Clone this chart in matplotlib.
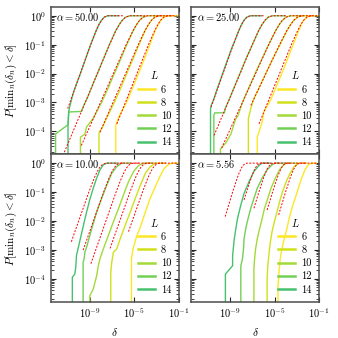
import numpy as np
import matplotlib
matplotlib.use('Agg')
import matplotlib.pyplot as plt
from matplotlib.ticker import LogLocator, NullLocator, NullFormatter

plt.rcParams['font.family'] = 'serif'
plt.rcParams['font.serif'] = ['cmr10', 'DejaVu Serif']
plt.rcParams['mathtext.fontset'] = 'cm'
plt.rcParams['axes.formatter.use_mathtext'] = True

# -------------------------
# Data (log10 values), L order: 6, 8, 10, 12, 14
# -------------------------
L_values = [6, 8, 10, 12, 14]
alphas = ['50.00', '25.00', '10.00', '5.56']
colors = ['#fde725', '#d0e11c', '#a2da37', '#73d056', '#48c16e']

# alpha = 50.00
a50_x = [
    [-6.67, -6.67, -6.40, -5.70, -5.15, -4.62, -4.10, -3.60, -3.12, -2.84, -2.60, -2.32, -1.98, -1.0],
    [-8.18, -8.18, -7.85, -7.50, -6.80, -6.22, -5.68, -5.12, -4.58, -4.03, -3.71, -3.45, -3.13, -2.75, -1.7],
    [-9.85, -9.85, -9.45, -9.30, -8.70, -7.95, -7.35, -6.80, -6.22, -5.68, -5.10, -4.78, -4.52, -4.20, -3.80, -2.8],
    [-12.09, -12.09, -10.97, -10.90, -9.76, -9.55, -9.20, -8.60, -8.00, -7.25, -6.68, -6.35, -6.08, -5.78, -5.40, -4.3],
    [-10.97, -10.97, -10.91, -10.80, -10.62, -10.45, -10.20, -9.90, -9.35, -8.93, -8.44, -8.18, -7.95, -7.70, -7.40, -6.4],
]
a50_y = [
    [-4.8, -3.8, -3.5, -3.0, -2.5, -2.0, -1.5, -1.0, -0.52, -0.30, -0.155, -0.046, 0, 0],
    [-4.8, -4.05, -3.85, -3.55, -3.00, -2.50, -2.00, -1.50, -1.0, -0.52, -0.30, -0.155, -0.046, 0, 0],
    [-4.8, -4.20, -4.10, -3.85, -3.55, -3.00, -2.50, -2.00, -1.50, -1.0, -0.52, -0.30, -0.155, -0.046, 0, 0],
    [-4.8, -4.09, -3.77, -3.33, -3.31, -3.10, -2.82, -2.25, -1.70, -1.0, -0.52, -0.30, -0.155, -0.046, 0, 0],
    [-4.8, -3.80, -3.31, -3.12, -2.85, -2.62, -2.35, -2.05, -1.45, -1.0, -0.52, -0.30, -0.155, -0.046, 0, 0],
]
a50_fit_x = [
    [-6.57, -3.72, -3.17, -2.87, -2.63, -2.34, -1.99, -1.2],
    [-8.09, -4.64, -4.05, -3.72, -3.45, -3.13, -2.75, -1.6],
    [-9.77, -5.73, -5.12, -4.79, -4.52, -4.19, -3.81, -2.5],
    [-11.30, -7.23, -6.66, -6.34, -6.08, -5.78, -5.41, -4.0],
    [-11.00, -8.93, -8.44, -8.18, -7.95, -7.70, -7.38, -6.0],
]
a50_fit_y = [
    [-3.74, -1.0, -0.52, -0.30, -0.155, -0.046, 0, 0],
    [-4.03, -1.0, -0.52, -0.30, -0.155, -0.046, 0, 0],
    [-4.49, -1.0, -0.52, -0.30, -0.155, -0.046, 0, 0],
    [-4.72, -1.0, -0.52, -0.30, -0.155, -0.046, 0, 0],
    [-3.21, -1.0, -0.52, -0.30, -0.155, -0.046, 0, 0],
]

# alpha = 25.00
a25_x = [
    [-6.57, -6.57, -6.42, -6.13, -5.98, -5.35, -4.75, -4.20, -3.70, -3.25, -2.85, -2.60, -2.38, -2.08, -1.73, -1.0],
    [-7.37, -7.37, -7.16, -6.87, -6.35, -5.75, -5.12, -4.52, -3.90, -3.55, -3.27, -2.93, -2.52, -1.6],
    [-9.89, -9.89, -9.40, -8.94, -8.79, -8.55, -8.30, -7.85, -7.28, -6.70, -6.10, -5.54, -4.92, -4.58, -4.30, -3.96, -3.57, -2.5],
    [-10.48, -10.48, -10.40, -9.53, -9.45, -9.15, -8.62, -8.08, -7.55, -7.00, -6.45, -6.13, -5.87, -5.57, -5.20, -4.1],
    [-10.78, -10.78, -10.72, -10.50, -10.20, -9.80, -9.35, -8.90, -8.73, -8.24, -7.98, -7.76, -7.50, -7.19, -6.2],
]
a25_y = [
    [-4.8, -4.20, -4.03, -3.68, -3.33, -2.90, -2.35, -1.85, -1.35, -0.92, -0.52, -0.30, -0.155, -0.046, 0, 0],
    [-4.8, -3.56, -3.22, -2.87, -2.45, -1.95, -1.45, -1.0, -0.52, -0.30, -0.155, -0.046, 0, 0],
    [-4.8, -4.61, -4.40, -4.09, -3.91, -3.60, -3.45, -2.95, -2.45, -1.95, -1.45, -1.0, -0.52, -0.30, -0.155, -0.046, 0, 0],
    [-4.8, -3.45, -3.36, -3.36, -3.20, -2.95, -2.45, -1.95, -1.45, -1.0, -0.52, -0.30, -0.155, -0.046, 0, 0],
    [-4.8, -3.22, -3.10, -2.90, -2.55, -2.12, -1.63, -1.15, -1.0, -0.52, -0.30, -0.155, -0.046, 0, 0],
]
a25_fit_x = [
    [-6.41, -3.50, -2.94, -2.64, -2.39, -2.09, -1.73, -1.1],
    [-7.15, -4.56, -3.92, -3.56, -3.27, -2.93, -2.52, -1.5],
    [-9.78, -5.54, -4.92, -4.58, -4.30, -3.96, -3.57, -2.4],
    [-10.46, -7.02, -6.45, -6.13, -5.87, -5.57, -5.20, -4.0],
    [-10.73, -8.73, -8.24, -7.98, -7.76, -7.50, -7.19, -6.0],
]
a25_fit_y = [
    [-3.74, -1.0, -0.52, -0.30, -0.155, -0.046, 0, 0],
    [-3.10, -1.0, -0.52, -0.30, -0.155, -0.046, 0, 0],
    [-4.58, -1.0, -0.52, -0.30, -0.155, -0.046, 0, 0],
    [-4.14, -1.0, -0.52, -0.30, -0.155, -0.046, 0, 0],
    [-3.16, -1.0, -0.52, -0.30, -0.155, -0.046, 0, 0],
]

# alpha = 10.00
a10_x = [
    [-5.25, -5.25, -5.10, -4.80, -4.45, -4.05, -3.60, -3.15, -2.70, -2.30, -1.90, -1.55, -1.0],
    [-7.12, -7.12, -7.03, -6.88, -6.58, -6.27, -5.82, -5.36, -4.91, -4.45, -4.00, -3.55, -3.09, -2.18],
    [-9.00, -9.00, -8.70, -8.39, -8.24, -8.09, -7.79, -7.33, -6.88, -6.42, -5.97, -5.52, -5.06, -4.61, -4.15, -3.24],
    [-9.61, -9.61, -9.52, -9.45, -9.30, -9.00, -8.70, -8.39, -7.94, -7.48, -7.03, -6.58, -6.12, -5.3],
    [-10.58, -10.58, -10.36, -10.27, -10.21, -10.06, -9.91, -9.61, -9.30, -9.00, -8.70, -8.39, -8.09, -7.79, -7.48, -6.58],
]
a10_y = [
    [-4.79, -3.30, -2.95, -2.55, -2.20, -1.75, -1.25, -0.85, -0.47, -0.18, -0.04, 0, 0],
    [-4.79, -3.78, -3.43, -3.08, -2.97, -2.62, -2.15, -1.69, -1.22, -0.76, -0.35, -0.12, 0, 0],
    [-4.79, -4.59, -4.36, -3.90, -3.55, -3.31, -2.97, -2.50, -2.03, -1.57, -1.10, -0.64, -0.29, -0.08, 0, 0],
    [-4.79, -3.43, -3.31, -3.08, -2.91, -2.50, -2.09, -1.69, -1.22, -0.76, -0.35, -0.12, 0, 0],
    [-4.79, -3.95, -3.84, -3.60, -3.20, -2.95, -2.70, -2.20, -1.70, -1.25, -0.87, -0.52, -0.23, -0.06, 0, 0],
]
a10_fit_x = [
    [-5.52, -4.26, -3.78, -3.52, -3.30, -3.04, -2.73, -1.1],
    [-7.18, -5.39, -4.91, -4.65, -4.43, -4.17, -3.86, -2.2],
    [-8.91, -6.64, -6.16, -5.90, -5.68, -5.42, -5.11, -3.5],
    [-9.61, -7.76, -7.28, -7.02, -6.80, -6.54, -6.23, -4.5],
    [-10.67, -9.09, -8.61, -8.35, -8.13, -7.87, -7.56, -6.0],
]
a10_fit_y = [
    [-2.37, -1.0, -0.52, -0.30, -0.155, -0.046, 0, 0],
    [-2.95, -1.0, -0.52, -0.30, -0.155, -0.046, 0, 0],
    [-3.48, -1.0, -0.52, -0.30, -0.155, -0.046, 0, 0],
    [-3.01, -1.0, -0.52, -0.30, -0.155, -0.046, 0, 0],
    [-2.72, -1.0, -0.52, -0.30, -0.155, -0.046, 0, 0],
]

# alpha = 5.56
a5_x = [
    [-4.70, -4.70, -4.61, -4.50, -4.35, -4.14, -3.90, -3.70, -3.46, -3.16, -2.87, -2.57, -2.27, -1.98, -1.68, -1.24],
    [-5.68, -5.68, -5.62, -5.53, -5.39, -5.24, -5.03, -4.79, -4.56, -4.29, -3.96, -3.61, -3.25, -2.87, -2.13],
    [-6.87, -6.87, -6.81, -6.72, -6.57, -6.36, -6.13, -5.92, -5.62, -5.33, -4.94, -4.56, -4.20, -3.90, -3.01],
    [-8.05, -8.05, -7.90, -7.81, -7.76, -7.61, -7.40, -7.16, -6.87, -6.57, -6.13, -5.68, -5.24, -4.94, -4.05],
    [-9.44, -9.44, -8.79, -8.79, -8.64, -8.50, -8.35, -8.05, -7.76, -7.31, -6.87, -6.42, -6.13, -5.39],
]
a5_y = [
    [-4.79, -4.24, -3.78, -3.31, -2.97, -2.62, -2.27, -1.92, -1.57, -1.22, -0.87, -0.52, -0.23, -0.06, 0, 0],
    [-4.79, -4.01, -3.55, -3.20, -2.73, -2.38, -2.03, -1.69, -1.34, -0.99, -0.64, -0.35, -0.12, 0, 0],
    [-4.79, -3.66, -3.31, -2.97, -2.62, -2.27, -1.92, -1.57, -1.22, -0.87, -0.52, -0.23, -0.06, 0, 0],
    [-4.79, -3.55, -3.31, -2.97, -2.62, -2.27, -1.92, -1.57, -1.22, -0.87, -0.52, -0.23, -0.06, 0, 0],
    [-4.79, -3.84, -3.55, -3.20, -2.62, -2.27, -1.92, -1.45, -1.05, -0.64, -0.29, -0.08, 0, 0],
]
a5_fit_x = [
    [-4.64, -4.02, -3.61, -3.39, -3.21, -2.99, -2.73, -1.2],
    [-5.68, -5.19, -4.78, -4.56, -4.38, -4.16, -3.90, -2.3],
    [-6.87, -6.42, -6.01, -5.79, -5.61, -5.39, -5.13, -3.5],
    [-7.76, -7.54, -7.13, -6.91, -6.73, -6.51, -6.25, -4.5],
    [-9.46, -8.79, -8.38, -8.16, -7.98, -7.76, -7.50, -5.5],
]
a5_fit_y = [
    [-1.79, -1.0, -0.52, -0.30, -0.155, -0.046, 0, 0],
    [-1.62, -1.0, -0.52, -0.30, -0.155, -0.046, 0, 0],
    [-1.56, -1.0, -0.52, -0.30, -0.155, -0.046, 0, 0],
    [-1.27, -1.0, -0.52, -0.30, -0.155, -0.046, 0, 0],
    [-1.85, -1.0, -0.52, -0.30, -0.155, -0.046, 0, 0],
]

panels = [
    (a50_x, a50_y, a50_fit_x, a50_fit_y),
    (a25_x, a25_y, a25_fit_x, a25_fit_y),
    (a10_x, a10_y, a10_fit_x, a10_fit_y),
    (a5_x, a5_y, a5_fit_x, a5_fit_y),
]

# -------------------------
# Plot
# -------------------------
fig, axes = plt.subplots(2, 2, figsize=(3.38, 3.38), dpi=100, sharex=True, sharey=True)
fig.subplots_adjust(left=0.151, right=0.944, top=0.979, bottom=0.107, wspace=0.10, hspace=0.0)

for ax, alpha, (cx, cy, fx, fy) in zip(axes.flat, alphas, panels):
    for L, col, x, y in zip(L_values, colors, cx, cy):
        ax.plot(10.0 ** np.array(x), 10.0 ** np.array(y), color=col, lw=1.0, label=str(L))
    for x, y in zip(fx, fy):
        ax.plot(10.0 ** np.array(x), 10.0 ** np.array(y), color='red', lw=0.7,
                dashes=(2.0, 1.5))

    ax.set_xscale('log')
    ax.set_yscale('log')
    ax.set_xlim(10 ** -12.5, 10 ** -1)
    ax.set_ylim(10 ** -4.8, 10 ** 0.3)
    ax.set_xticks([1e-9, 1e-5, 1e-1])
    ax.xaxis.set_minor_locator(NullLocator())
    ax.yaxis.set_major_locator(LogLocator(base=10, numticks=20))
    ax.yaxis.set_minor_locator(LogLocator(base=10, subs=np.arange(2, 10), numticks=20))
    ax.yaxis.set_minor_formatter(NullFormatter())
    ax.tick_params(which='both', direction='in', top=True, right=True, labelsize=7.5,
                   color='0.15')
    ax.tick_params(which='major', length=3.5, width=0.8)
    ax.tick_params(which='minor', length=2, width=0.6)
    for sp in ax.spines.values():
        sp.set_linewidth(1.1)
        sp.set_color('0.3')

    ax.text(0.04, 0.975, r'$\alpha = %s$' % alpha, transform=ax.transAxes,
            ha='left', va='top', fontsize=7.5)

    leg = ax.legend(title='$L$', loc='lower right', frameon=False, fontsize=7.5,
                    title_fontsize=7.5, handlelength=1.6, handletextpad=0.6,
                    labelspacing=0.35, borderaxespad=0.3)
    for ln in leg.get_lines():
        ln.set_linewidth(1.8)

for ax in axes[:, 0]:
    ax.set_ylabel(r'$P[\mathrm{min}_n(\delta_n) < \delta]$', fontsize=8)
for ax in axes[1, :]:
    ax.set_xlabel(r'$\delta$', fontsize=8)

fig.savefig('out.png', dpi=100)
